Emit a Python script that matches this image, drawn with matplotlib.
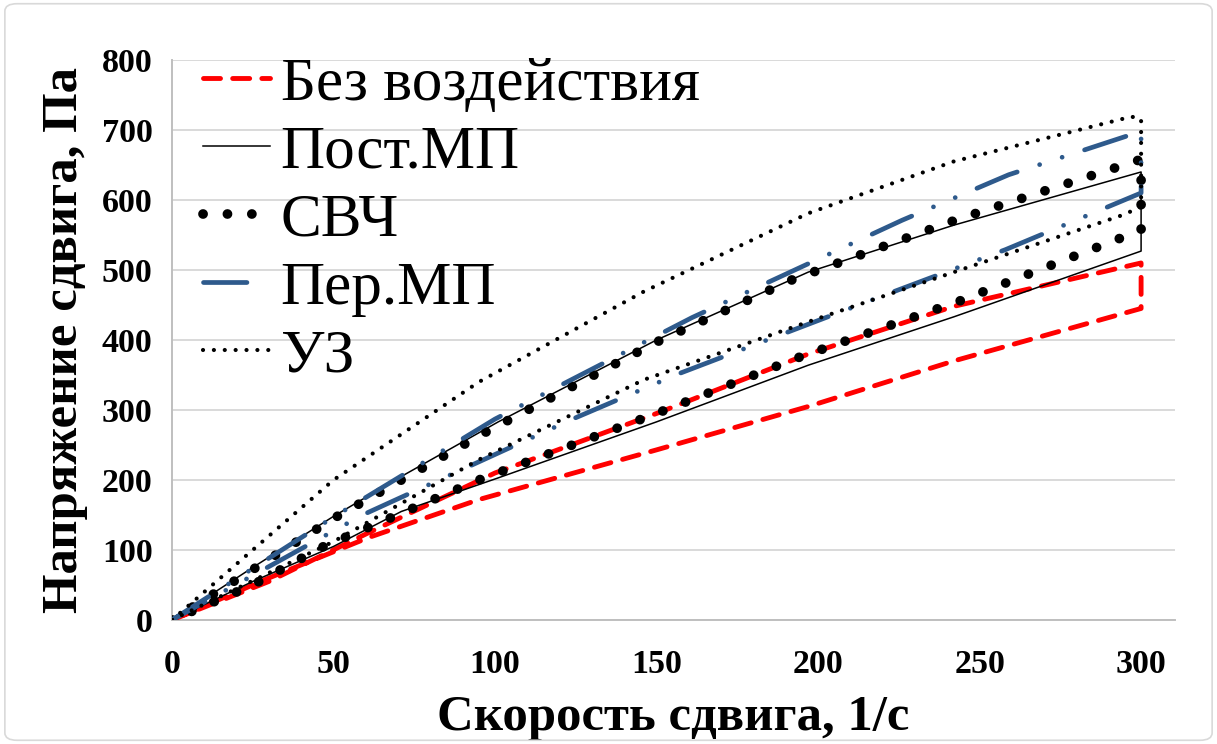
import numpy as np
import matplotlib
matplotlib.use("Agg")
import matplotlib.pyplot as plt
from matplotlib.patches import FancyBboxPatch

# Shear rate (1/s) and shear stress (Pa): loading branch 0 -> 300, unloading 300 -> 0
labels = ["Без воздействия", "Пост.МП", "СВЧ", "Пер.МП", "УЗ"]

base_x_up = [0, 30, 61, 100, 150, 197, 242, 300]
base_y_up = [0, 55, 125, 210, 295, 380, 448, 510]
base_x_dn = [300, 242, 197, 150, 95, 61, 30, 0]
base_y_dn = [445, 370, 305, 243, 172, 118, 60, 0]

const_x_up = [0, 25, 50, 71, 101, 150, 197, 242, 300]
const_y_up = [0, 75, 148, 205, 283, 400, 497, 564, 640]
const_x_dn = [300, 242, 197, 150, 101, 71, 50, 25, 0]
const_y_dn = [527, 433, 364, 283, 203, 155, 105, 55, 0]

mw_x_up = [0, 25, 50, 97, 150, 192, 243, 300]
mw_y_up = [0, 72, 145, 268, 397, 486, 572, 658]
mw_x_dn = [300, 244, 194, 150, 95, 46, 25, 0]
mw_y_dn = [557, 456, 375, 295, 200, 103, 50, 0]

alt_x_up = [0, 50, 100, 161, 226, 259, 300]
alt_y_up = [0, 147, 287, 432, 571, 636, 698]
alt_x_dn = [300, 258, 224, 157, 124, 59, 0]
alt_y_dn = [610, 529, 470, 352, 287, 150, 0]

us_x_up = [0, 15, 50, 95, 146, 197, 242, 297, 300]
us_y_up = [0, 60, 200, 340, 469, 581, 655, 719, 716]
us_x_dn = [300, 294, 244, 197, 146, 95, 50, 0]
us_y_dn = [590, 578, 500, 426, 343, 229, 112, 0]

x_ticks = [0, 50, 100, 150, 200, 250, 300]
y_ticks = [0, 100, 200, 300, 400, 500, 600, 700, 800]

serif = ["Liberation Serif", "DejaVu Serif"]
plt.rcParams["font.family"] = serif

fig = plt.figure(figsize=(12.17, 7.44), dpi=100)
ax = fig.add_axes([0.1413, 0.1667, 0.8242, 0.7527])

blue = "#2E5A8C"

def loop(xu, yu, xd, yd):
    return np.array(xu + xd), np.array(yu + yd)

x, y = loop(base_x_up, base_y_up, base_x_dn, base_y_dn)
ax.plot(x, y, color="#FF0000", lw=3.5, ls=(0, (3.5, 2.5)),
        dash_capstyle="round", solid_joinstyle="round", label=labels[0], zorder=3)

x, y = loop(const_x_up, const_y_up, const_x_dn, const_y_dn)
ax.plot(x, y, color="black", lw=1.1, label=labels[1], zorder=4)

x, y = loop(mw_x_up, mw_y_up, mw_x_dn, mw_y_dn)
ax.plot(x, y, color="black", lw=7.0, ls=(0, (0.01, 2.5)),
        dash_capstyle="round", label=labels[2], zorder=5)

x, y = loop(alt_x_up, alt_y_up, alt_x_dn, alt_y_dn)
ax.plot(x, y, color=blue, lw=3.4, ls=(0, (9.2, 5.0, 0.01, 5.0, 0.01, 5.0)),
        dash_capstyle="round", label=labels[3], zorder=6)

x, y = loop(us_x_up, us_y_up, us_x_dn, us_y_dn)
ax.plot(x, y, color="black", lw=3.0, ls=(0, (0.01, 2.6)),
        dash_capstyle="round", label=labels[4], zorder=7)

ax.set_xlim(0, 310.5)
ax.set_ylim(0, 800)
ax.set_xticks(x_ticks)
ax.set_yticks(y_ticks)
ax.grid(axis="y", color="#D9D9D9", lw=1.4)
ax.set_axisbelow(True)
for s in ["top", "right"]:
    ax.spines[s].set_visible(False)
for s in ["left", "bottom"]:
    ax.spines[s].set_color("#BFBFBF")
    ax.spines[s].set_linewidth(1.4)
ax.tick_params(length=0, labelsize=24.5, pad=14)
for lab in ax.get_xticklabels() + ax.get_yticklabels():
    lab.set_fontweight("bold")
ax.tick_params(axis="x", pad=21)

ax.set_xlabel("Скорость сдвига, 1/с", fontsize=36.5, fontweight="bold", labelpad=11)
ax.set_ylabel("Напряжение сдвига, Па", fontsize=36.5, fontweight="bold", labelpad=10)

leg = ax.legend(loc="upper left", bbox_to_anchor=(0.0, 1.06), frameon=False,
                fontsize=44, handlelength=1.1, handletextpad=0.18,
                labelspacing=0.2, borderaxespad=0.3, borderpad=0.2)

fig.patches.append(FancyBboxPatch((0.004, 0.005), 0.992, 0.99,
                                  boxstyle="round,pad=0,rounding_size=0.01",
                                  transform=fig.transFigure, fill=False,
                                  edgecolor="#D9D9D9", lw=1.2))

fig.savefig("out.png", dpi=100)
